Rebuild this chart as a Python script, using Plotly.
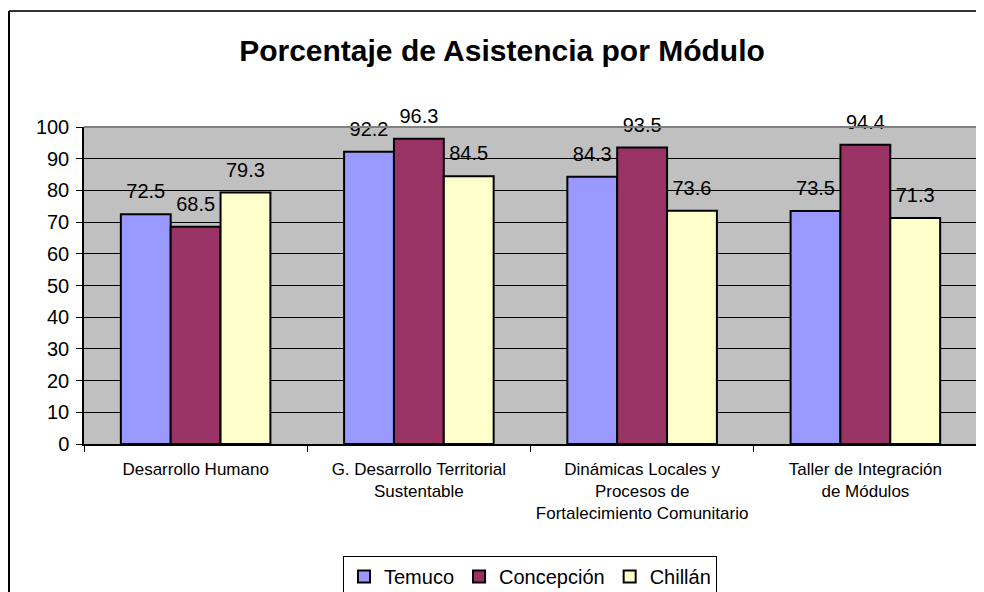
import plotly.graph_objects as go

# datos
modulos = [
    "Desarrollo Humano",
    "G. Desarrollo Territorial<br>Sustentable",
    "Dinámicas Locales y<br>Procesos de<br>Fortalecimiento Comunitario",
    "Taller de Integración<br>de Módulos",
]
temuco = [72.5, 92.2, 84.3, 73.5]
concepcion = [68.5, 96.3, 93.5, 94.4]
chillan = [79.3, 84.5, 73.6, 71.3]

series = [("Temuco", temuco, "#9999FF"),
          ("Concepción", concepcion, "#993366"),
          ("Chillán", chillan, "#FFFFCC")]

# la página tiene 8px de margen en el body: la figura se compensa
OFF = 8
W, H = 984 - OFF, 592 - OFF
X0, X1, Y0, Y1 = 84, 977, 127, 444   # área de trazado en la captura
L, R, T, B = X0 - OFF, W - (X1 - OFF), Y0 - OFF, H - (Y1 - OFF)

fig = go.Figure()
for i, (name, vals, color) in enumerate(series):
    fig.add_trace(go.Bar(x=modulos, y=vals, name=name, offsetgroup=str(i),
                         marker=dict(color=color, line=dict(color="black", width=2))))
# etiquetas de datos (marcador invisible para separar el texto de la barra)
for i, (name, vals, color) in enumerate(series):
    fig.add_trace(go.Scatter(x=modulos, y=vals, mode="markers+text", offsetgroup=str(i),
                             marker=dict(size=16, opacity=0),
                             text=[f"{v:.1f}" for v in vals], textposition="top center",
                             textfont=dict(size=20, color="black"),
                             showlegend=False, hoverinfo="skip", cliponaxis=False))

fx = lambda px: (px - X0) / (X1 - X0)
fy = lambda py: (Y1 - py) / (Y1 - Y0)

fig.update_layout(
    width=W, height=H,
    margin=dict(l=L, r=R, t=T, b=B, autoexpand=False),
    paper_bgcolor="white", plot_bgcolor="#C0C0C0",
    font=dict(family="Arial, Liberation Sans, sans-serif", color="black"),
    title=dict(text="<b>Porcentaje de Asistencia por Módulo</b>", x=fx(502), xanchor="center",
               xref="paper", y=1 - (50 - OFF) / H, yanchor="middle", font=dict(size=30)),
    barmode="group", bargap=0.33, bargroupgap=0,
    scattermode="group", scattergap=0.33,
    legend=dict(orientation="h", x=fx(530), xanchor="center", y=fy(556), yanchor="top",
                bordercolor="black", borderwidth=1, bgcolor="white", itemwidth=30,
                font=dict(size=20), traceorder="normal"),
    shapes=[
        dict(type="line", xref="paper", yref="paper", x0=fx(9), x1=fx(1000), y0=fy(11), y1=fy(11),
             line=dict(color="#333333", width=2)),
        dict(type="line", xref="paper", yref="paper", x0=fx(9), x1=fx(9), y0=fy(11), y1=fy(600),
             line=dict(color="black", width=2)),
        dict(type="line", xref="paper", yref="paper", x0=0, x1=1, y0=1, y1=1,
             line=dict(color="#808080", width=2)),
        dict(type="line", xref="paper", yref="paper", x0=1, x1=1, y0=0, y1=1,
             line=dict(color="#808080", width=2)),
    ],
)
fig.update_xaxes(tickson="boundaries", ticks="outside", ticklen=6, tickcolor="black",
                 showline=True, linecolor="black", linewidth=1.5, showgrid=False,
                 tickfont=dict(size=17), ticklabelstandoff=9, automargin=False)
fig.update_yaxes(range=[0, 100], dtick=10, ticks="outside", ticklen=6, tickcolor="black",
                 showline=True, linecolor="black", linewidth=1.5,
                 showgrid=True, gridcolor="black", gridwidth=1, zeroline=False,
                 tickfont=dict(size=20), ticklabelstandoff=3, automargin=False)

fig.write_html("out.html")
